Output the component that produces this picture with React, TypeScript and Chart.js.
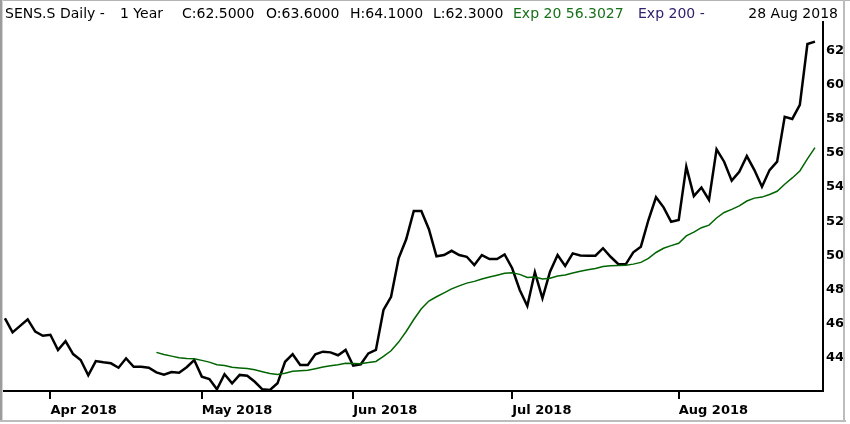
import { useEffect, useRef } from "react";
import { Chart, registerables } from "chart.js";

Chart.register(...registerables);

// daily close, one value per trading day from 22 Mar 2018 to 28 Aug 2018
const closeValues = [
  46.32, 45.5, 45.88, 46.26, 45.54, 45.3, 45.36, 44.47, 44.99, 44.23,
  43.88, 42.99, 43.82, 43.75, 43.69, 43.43, 43.98, 43.49, 43.49, 43.43,
  43.16, 43.02, 43.18, 43.14, 43.46, 43.88, 42.91, 42.77, 42.17, 43.05,
  42.52, 43.01, 42.96, 42.61, 42.17, 42.13, 42.52, 43.78, 44.22, 43.59,
  43.59, 44.22, 44.37, 44.33, 44.16, 44.47, 43.55, 43.63, 44.27, 44.47,
  46.81, 47.58, 49.83, 50.94, 52.6, 52.6, 51.53, 49.95, 50.02, 50.27,
  50.02, 49.92, 49.44, 50.02, 49.79, 49.79, 50.06, 49.25, 47.98, 47.04,
  49.01, 47.49, 49.05, 50.02, 49.38, 50.12, 50.0, 49.98, 49.98, 50.42,
  49.92, 49.5, 49.48, 50.18, 50.51, 52.07, 53.4, 52.81, 51.97, 52.07,
  55.19, 53.47, 53.97, 53.24, 56.2, 55.48, 54.37, 54.89, 55.81, 54.99,
  54.02, 54.99, 55.48, 58.11, 57.98, 58.8, 62.36, 62.5,
];

// Exp 20, starts at trading day 20
const emaStart = 20;
const ema20Values = [
  44.33, 44.21, 44.11, 44.02, 43.97, 43.96, 43.86, 43.76, 43.61, 43.56,
  43.46, 43.42, 43.38, 43.31, 43.2, 43.1, 43.04, 43.11, 43.22, 43.25,
  43.28, 43.37, 43.47, 43.55, 43.61, 43.69, 43.68, 43.67, 43.73, 43.8,
  44.09, 44.42, 44.93, 45.55, 46.25, 46.88, 47.33, 47.58, 47.81, 48.04,
  48.22, 48.38, 48.48, 48.62, 48.74, 48.84, 48.95, 48.98, 48.89, 48.71,
  48.74, 48.62, 48.67, 48.8, 48.85, 48.97, 49.07, 49.16, 49.23, 49.35,
  49.4, 49.41, 49.42, 49.49, 49.59, 49.83, 50.17, 50.42, 50.57, 50.71,
  51.14, 51.36, 51.62, 51.77, 52.19, 52.51, 52.69, 52.9, 53.18, 53.35,
  53.41, 53.56, 53.75, 54.16, 54.53, 54.94, 55.65, 56.3,
];

// first trading day of each month
const monthTickIndex = [6, 26, 46, 67, 89];
const monthTickLabels = ["Apr 2018", "May 2018", "Jun 2018", "Jul 2018", "Aug 2018"];
const priceTicks = [44, 46, 48, 50, 52, 54, 56, 58, 60, 62];

const FONT = "'DejaVu Sans', sans-serif";

const framePlugin = {
  id: "frame",
  afterDraw(chart: Chart) {
    const ctx = chart.ctx;
    ctx.save();
    ctx.fillStyle = "#b4b4b4";
    ctx.fillRect(0, 0, 850, 1);
    ctx.fillStyle = "#9c9c9c";
    ctx.fillRect(0, 0, 2, 422);
    ctx.fillStyle = "#d4d4d4";
    ctx.fillRect(2, 0, 1, 421);
    ctx.fillStyle = "#bcbcbc";
    ctx.fillRect(0, 420, 846, 2);
    ctx.fillRect(843, 0, 2, 422);
    ctx.restore();
  },
};

const header: { text: string; left?: number; right?: number; color: string }[] = [
  { text: "SENS.S Daily -", left: 5, color: "#000" },
  { text: "1 Year", left: 120, color: "#000" },
  { text: "C:62.5000", left: 182, color: "#000" },
  { text: "O:63.6000", left: 266, color: "#000" },
  { text: "H:64.1000", left: 350, color: "#000" },
  { text: "L:62.3000", left: 433, color: "#000" },
  { text: "Exp 20 56.3027", left: 513, color: "#17701a" },
  { text: "Exp 200 -", left: 638, color: "#33206e" },
  { text: "28 Aug 2018", right: 12, color: "#000" },
];

const App = () => {
  const canvasRef = useRef<HTMLCanvasElement>(null);

  useEffect(() => {
    document.body.style.margin = "0";
    const ctx = canvasRef.current?.getContext("2d");
    if (!ctx) return;

    const chart = new Chart(ctx, {
      type: "line",
      data: {
        datasets: [
          {
            label: "Exp 20",
            data: ema20Values.map((v, k) => ({ x: k + emaStart, y: v })),
            borderColor: "#006400",
            borderWidth: 1.5,
            pointRadius: 0,
            tension: 0,
          },
          {
            label: "Close",
            data: closeValues.map((v, k) => ({ x: k, y: v })),
            borderColor: "#000",
            borderWidth: 2.5,
            pointRadius: 0,
            tension: 0,
          },
        ],
      },
      options: {
        responsive: false,
        animation: false,
        layout: { padding: { top: 22, left: 4, right: 0, bottom: 0 } },
        plugins: {
          legend: { display: false },
          tooltip: { enabled: false },
          title: { display: false },
        },
        scales: {
          x: {
            type: "linear",
            min: -0.13,
            max: 108.06,
            afterBuildTicks: (s: any) => {
              s.ticks = monthTickIndex.map((v) => ({ value: v }));
            },
            afterFit: (s: any) => {
              s.height = 33;
            },
            grid: {
              drawOnChartArea: false,
              drawTicks: true,
              tickLength: 8,
              color: "#000",
              lineWidth: 2,
            },
            border: { display: true, color: "#000", width: 2 },
            ticks: {
              align: "start",
              padding: 4,
              color: "#000",
              autoSkip: false,
              maxRotation: 0,
              font: { family: FONT, size: 13, weight: "bold" },
              callback: (v: any) => monthTickLabels[monthTickIndex.indexOf(v)] ?? "",
            },
          },
          y: {
            type: "linear",
            position: "right",
            min: 42.07,
            max: 63.65,
            afterBuildTicks: (s: any) => {
              s.ticks = priceTicks.map((v) => ({ value: v }));
            },
            afterFit: (s: any) => {
              s.width = 27;
            },
            grid: { drawOnChartArea: false, drawTicks: false },
            border: { display: true, color: "#000", width: 2 },
            ticks: {
              padding: 3,
              color: "#000",
              font: { family: FONT, size: 13, weight: "bold" },
              callback: (v: any) => String(v),
            },
          },
        },
      },
      plugins: [framePlugin],
    });

    return () => {
      chart.destroy();
    };
  }, []);

  return (
    <div style={{ position: "relative", width: 850, height: 424, background: "#fff" }}>
      <canvas ref={canvasRef} width={850} height={424} style={{ display: "block" }}></canvas>
      {header.map((h) => (
        <span
          key={h.text}
          style={{
            position: "absolute",
            top: 5,
            left: h.left,
            right: h.right,
            color: h.color,
            fontFamily: FONT,
            fontSize: 14,
            lineHeight: "16px",
            whiteSpace: "pre",
          }}
        >
          {h.text}
        </span>
      ))}
    </div>
  );
};

export default App;
